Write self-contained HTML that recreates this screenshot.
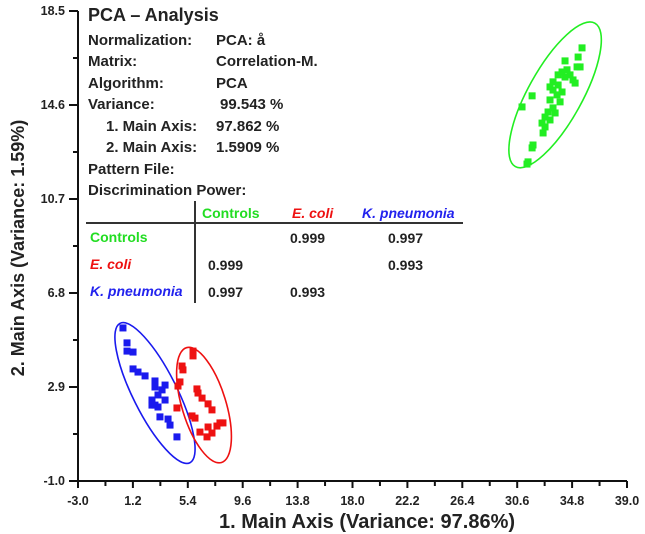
<!DOCTYPE html>
<html><head><meta charset="utf-8"><style>
body{margin:0;background:#fff;}
svg{display:block;font-family:"Liberation Sans",sans-serif;}
</style></head><body>
<svg id="chart" width="645" height="534" viewBox="0 0 645 534">
<g id="axes"></g>
<g id="ellipses"></g>
<g id="points"></g>
<g font-weight="bold" font-size="15" fill="#222">
<text x="88" y="21" font-size="18">PCA – Analysis</text>
<text x="88" y="45">Normalization:</text><text x="216" y="45">PCA: å</text>
<text x="88" y="66">Matrix:</text><text x="216" y="66">Correlation-M.</text>
<text x="88" y="88">Algorithm:</text><text x="216" y="88">PCA</text>
<text x="88" y="109">Variance:</text><text x="220" y="109">99.543 %</text>
<text x="106" y="131">1. Main Axis:</text><text x="216" y="131">97.862 %</text>
<text x="106" y="152">2. Main Axis:</text><text x="216" y="152">1.5909 %</text>
<text x="88" y="174">Pattern File:</text>
<text x="88" y="195">Discrimination Power:</text>
</g>
<g font-weight="bold" font-size="14">
<line x1="86" y1="223" x2="463" y2="223" stroke="#333" stroke-width="2"/>
<line x1="195" y1="201" x2="195" y2="303" stroke="#333" stroke-width="2"/>
<text x="202" y="218" fill="#22dd22">Controls</text>
<text x="292" y="218" fill="#ee1111" font-style="italic">E. coli</text>
<text x="362" y="218" fill="#2222ee" font-style="italic">K. pneumonia</text>
<text x="90" y="242" fill="#22dd22">Controls</text>
<text x="90" y="269" fill="#ee1111" font-style="italic">E. coli</text>
<text x="90" y="296" fill="#2222ee" font-style="italic">K. pneumonia</text>
<g fill="#222">
<text x="290" y="243">0.999</text>
<text x="388" y="243">0.997</text>
<text x="208" y="270">0.999</text>
<text x="388" y="270">0.993</text>
<text x="208" y="297">0.997</text>
<text x="290" y="297">0.993</text>
</g></g>
<text x="367" y="528" text-anchor="middle" font-size="20" font-weight="bold" fill="#222">1. Main Axis (Variance: 97.86%)</text>
<text transform="translate(24,248) rotate(-90)" text-anchor="middle" font-size="18" font-weight="bold" fill="#222">2. Main Axis (Variance: 1.59%)</text>
</svg>
<script>
const xTicks=[-3.0,1.2,5.4,9.6,13.8,18.0,22.2,26.4,30.6,34.8,39.0];
const yTicks=[-1.0,2.9,6.8,10.7,14.6,18.5];
const controlsX=[35.56,35.26,34.26,35.18,35.41,34.03,33.73,34.26,34.87,35.03,33.34,33.73,33.11,33.34,34.03,31.74,33.65,33.11,33.88,30.97,33.34,32.96,33.5,32.73,33.11,32.5,32.73,32.58,31.81,31.74,31.43,31.35,34.41,34.64];
const controlsY=[16.97,16.59,16.43,16.18,16.18,15.97,15.85,15.76,15.64,15.51,15.56,15.43,15.35,15.22,15.14,14.98,15.02,14.81,14.73,14.52,14.48,14.31,14.27,14.10,13.98,13.85,13.69,13.44,12.94,12.82,12.24,12.15,16.06,15.85];
const kpnX=[0.44,0.75,0.75,1.21,1.21,1.59,2.13,2.89,2.89,3.43,3.66,3.12,2.66,2.89,3.12,3.66,3.27,3.89,4.04,4.57,2.66];
const kpnY=[5.35,4.73,4.39,4.35,3.65,3.52,3.36,3.15,2.90,2.78,2.98,2.57,2.36,2.15,2.07,2.36,1.66,1.57,1.32,0.83,2.15];
const ecoliX=[5.80,5.80,4.96,5.03,4.80,4.65,6.10,6.18,6.49,6.95,4.57,7.25,5.72,5.95,6.95,7.86,7.63,6.33,7.25,6.87,8.09];
const ecoliY=[4.39,4.19,3.77,3.61,3.11,2.94,2.82,2.65,2.44,2.20,2.03,1.95,1.70,1.61,1.24,1.41,1.28,1.03,0.99,0.83,1.41];
const ellipseCX=[33.5,2.89,6.64];
const ellipseCY=[15.02,2.65,2.15];
const NS='http://www.w3.org/2000/svg';
const X0=78,X1=627,Y0=481,Y1=11;
const xs=v=>X0+(v-(-3))/(42)*(X1-X0);
const ys=v=>Y0-(v-(-1))/(19.5)*(Y0-Y1);
function mk(tag,attrs,parent){const e=document.createElementNS(NS,tag);for(const k in attrs)e.setAttribute(k,attrs[k]);parent.appendChild(e);return e;}
const ax=document.getElementById('axes');
let l=mk('line',{x1:X0,y1:Y1,x2:X0,y2:Y0+5,stroke:'#111','stroke-width':2},ax);


l=mk('line',{x1:X0-6,y1:Y0,x2:X1,y2:Y0,stroke:'#111','stroke-width':2},ax);


xTicks.forEach((v,i)=>{const x=xs(v);
 mk('line',{x1:x,y1:Y0,x2:x,y2:Y0+7,stroke:'#111','stroke-width':2},ax);
 if(i<xTicks.length-1){const m=xs((v+xTicks[i+1])/2);mk('line',{x1:m,y1:Y0,x2:m,y2:Y0+5,stroke:'#111','stroke-width':2},ax);}
 const t=mk('text',{x:x,y:Y0+24,'text-anchor':'middle','font-size':12.5,'font-weight':'bold',fill:'#222'},ax);t.textContent=v.toFixed(1);
 
 
});
yTicks.forEach((v,i)=>{const y=ys(v);
 mk('line',{x1:X0-9,y1:y,x2:X0,y2:y,stroke:'#111','stroke-width':2},ax);
 if(i<yTicks.length-1){const m=ys((v+yTicks[i+1])/2);mk('line',{x1:X0-5,y1:m,x2:X0,y2:m,stroke:'#111','stroke-width':2},ax);}
 const t=mk('text',{x:X0-13,y:Math.max(y+4,15),'text-anchor':'end','font-size':12.5,'font-weight':'bold',fill:'#222'},ax);t.textContent=v.toFixed(1);
 
 
});
const eg=document.getElementById('ellipses');
const eCol=['#22ee22','#1a1aee','#ee1111'],eRx=[82,78,60],eRy=[27,22,22],eAng=[-61,63.4,73];
const eNames=['controls-ellipse','kpneumonia-ellipse','ecoli-ellipse'];
ellipseCX.forEach((c,i)=>{const cx=xs(c),cy=ys(ellipseCY[i]);
 const e=mk('ellipse',{cx:cx,cy:cy,rx:eRx[i],ry:eRy[i],fill:'none',stroke:eCol[i],'stroke-width':1.6,transform:`rotate(${eAng[i]} ${cx} ${cy})`},eg);
 
 
});
const pg=document.getElementById('points');
function series(X,Y,col,name){X.forEach((v,i)=>{const r=mk('rect',{x:xs(v)-3.5,y:ys(Y[i])-3.5,width:7,height:7,fill:col},pg);
 
 
});}
series(controlsX,controlsY,'#22ee22','controls-point');
series(kpnX,kpnY,'#1a1aee','kpneumonia-point');
series(ecoliX,ecoliY,'#ee1111','ecoli-point');
</script>
</body></html>
